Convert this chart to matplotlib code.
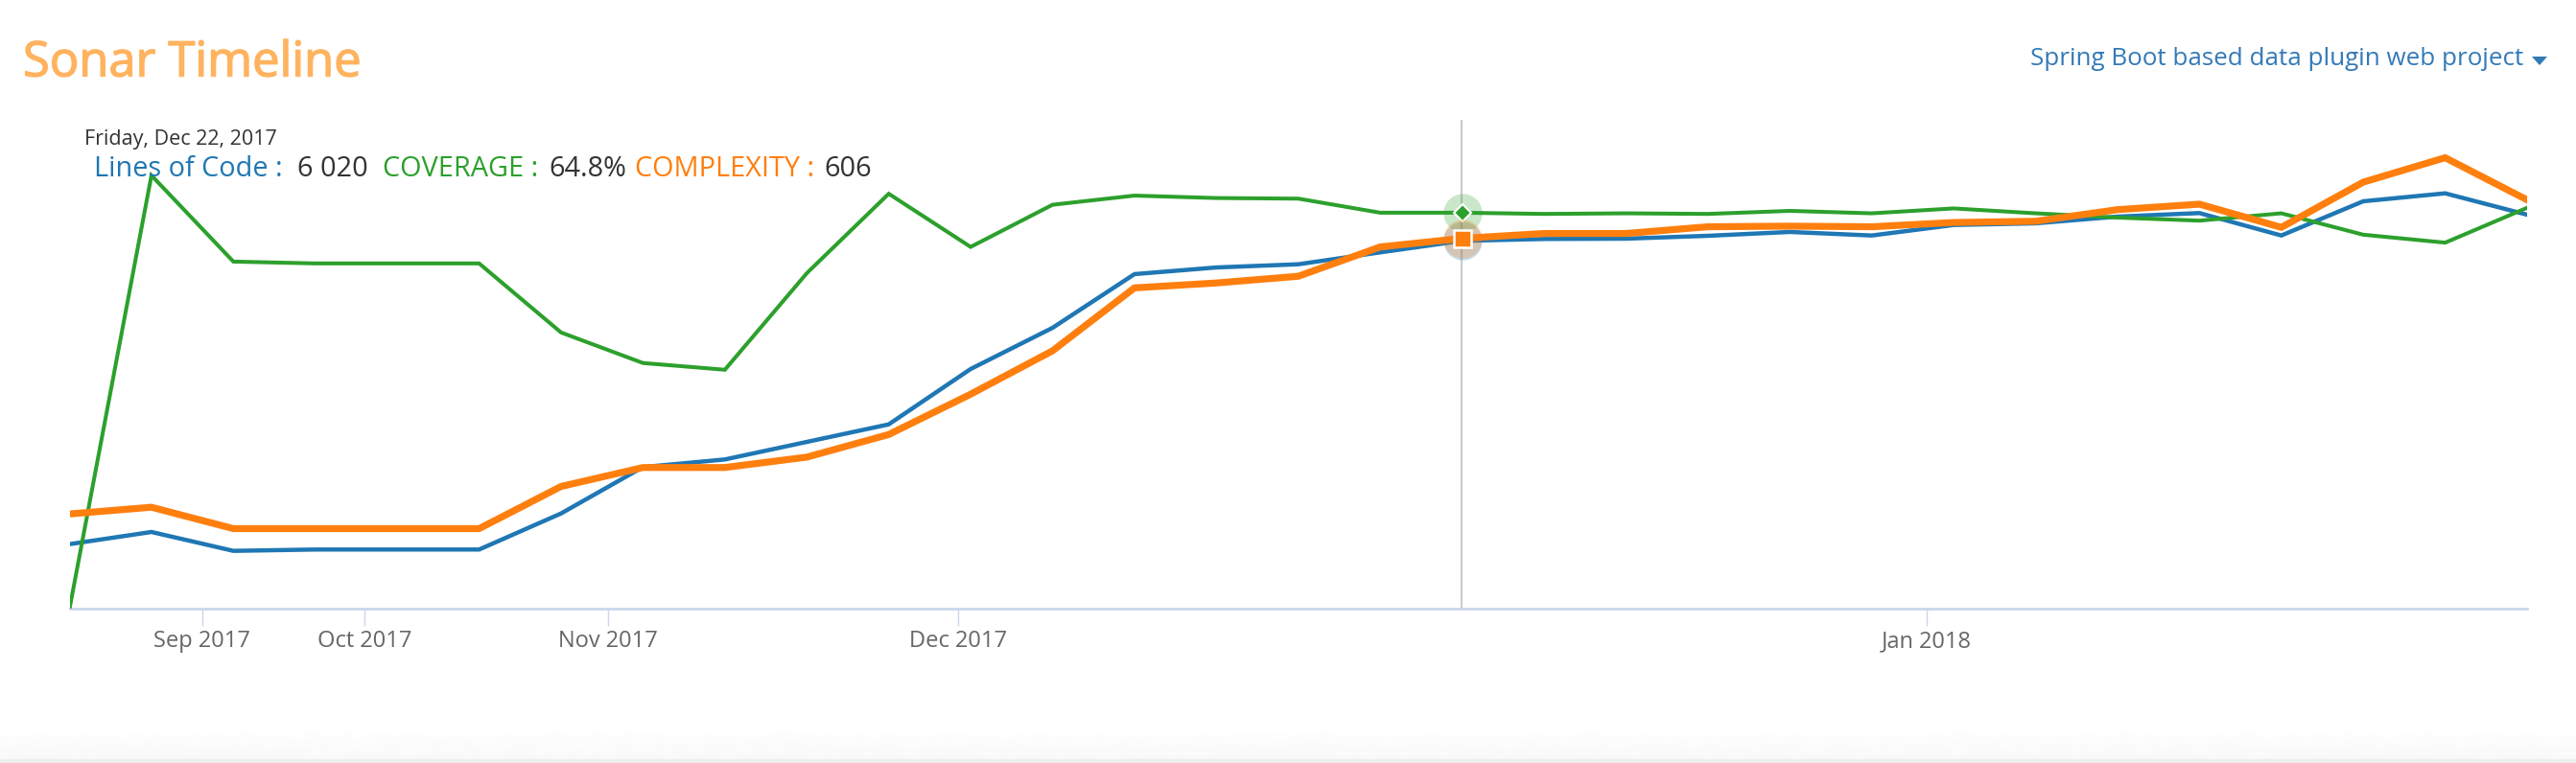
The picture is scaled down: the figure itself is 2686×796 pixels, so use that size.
import matplotlib
matplotlib.use('Agg')
import matplotlib.pyplot as plt
import matplotlib.patheffects as pe
import numpy as np

plt.rcParams['font.family'] = ['Open Sans', 'DejaVu Sans']

W, H = 2686, 796

# weekly sonar snapshots, index 17 is the highlighted one (Dec 22)
lines_of_code = [1056, 1255, 946, 968, 968, 968, 1558, 2317, 2442, 2729, 3016,
                 3922, 4596, 5475, 5584, 5636, 5831, 6020, 6050, 6055, 6102,
                 6165, 6107, 6279, 6306, 6416, 6474, 6107, 6667, 6797, 6447]
coverage = [0, 70.9, 56.8, 56.5, 56.5, 56.5, 45.2, 40.2, 39.1, 54.9, 67.9,
            59.2, 66.1, 67.6, 67.2, 67.1, 64.8, 64.8, 64.6, 64.7, 64.6,
            65.1, 64.7, 65.5, 64.7, 64.0, 63.5, 64.7, 61.2, 59.9, 65.6]
complexity = [155, 166, 131, 131, 131, 131, 200, 231, 231, 248, 285,
              351, 422, 525, 533, 544, 592, 606, 614, 614, 625,
              626, 625, 632, 634, 653, 662, 624, 698, 738, 669]

month_pos = [1.62, 3.6, 6.57, 10.85, 22.67]
month_labels = ['Sep 2017', 'Oct 2017', 'Nov 2017', 'Dec 2017', 'Jan 2018']
hover_idx = 17

BLUE, GREEN, ORANGE = '#1f77b4', '#2ca02c', '#ff7f0e'
AXIS = '#ccd6eb'


def px_text(x, y, s, **kw):
    # position in image pixels, y from the top
    return fig.text(x / W, 1 - y / H, s, **kw)


fig = plt.figure(figsize=(W / 100, H / 100), dpi=100, facecolor='white')

# faint page edge at the bottom
edge = fig.add_axes([0, 0, 1, 40 / H])
edge.imshow(np.linspace(1, 0.975, 50).reshape(-1, 1), cmap='gray', vmin=0, vmax=1, aspect='auto')
edge.axis('off')
fig.patches.append(plt.Rectangle((0, 0), 1, 4 / H, transform=fig.transFigure, color='#eeeeee', zorder=5))

left, right, top, bottom = 72.5, 2635, 125, 635
ax = fig.add_axes([left / W, 1 - bottom / H, (right - left) / W, (bottom - top) / H])
ax.patch.set_alpha(0)
ax_cov = ax.twinx()
ax_cpx = ax.twinx()
xs = np.arange(len(lines_of_code))

ax.set_xlim(0, len(xs) - 1)
ax.set_ylim(0, 8000)
ax_cov.set_ylim(0, 80)
ax_cpx.set_ylim(0, 800)

ax.plot(xs, lines_of_code, color=BLUE, lw=3.2, solid_joinstyle='miter', zorder=2)
ax_cov.plot(xs, coverage, color=GREEN, lw=2.9, solid_joinstyle='miter', zorder=3)
ax_cpx.plot(xs, complexity, color=ORANGE, lw=5.2, solid_joinstyle='miter', zorder=4)

for a in (ax, ax_cov, ax_cpx):
    for s in a.spines.values():
        s.set_visible(False)
    a.yaxis.set_visible(False)
ax.spines['bottom'].set_visible(True)
ax.spines['bottom'].set_color(AXIS)
ax.spines['bottom'].set_linewidth(2)

ax.set_xticks(month_pos)
ax.set_xticklabels(month_labels, fontsize=17, color='#666666')
ax.tick_params(axis='x', length=13, width=1, color=AXIS, pad=3)

ax.axvline(hover_idx - 0.01, color='#cccccc', lw=1.6, zorder=1)

# hover halos and markers
ax.plot(hover_idx, lines_of_code[hover_idx], 'o', ms=29, color=BLUE, alpha=0.25, mew=0, zorder=5)
ax_cov.plot(hover_idx, coverage[hover_idx], 'o', ms=29, color=GREEN, alpha=0.25, mew=0, zorder=5, clip_on=False)
ax_cpx.plot(hover_idx, complexity[hover_idx], 'o', ms=29, color=ORANGE, alpha=0.25, mew=0, zorder=5)
ax_cov.plot(hover_idx, coverage[hover_idx], 'D', ms=9, color=GREEN, mec='white', mew=1.5, zorder=6)
ax_cpx.plot(hover_idx, complexity[hover_idx], 's', ms=13, color=ORANGE, mec='white', mew=1.8, zorder=6)

title = px_text(24, 66, 'Sonar Timeline', fontsize=36.5, color='#ffb35f', va='center')
title.set_path_effects([pe.withStroke(linewidth=1, foreground='#ffb35f')])
px_text(2116.6, 62, 'Spring Boot based data plugin web project', fontsize=18.7, color='#337ab7', va='center')
fig.add_artist(plt.Polygon([[2640 / W, 1 - 59 / H], [2656 / W, 1 - 59 / H], [2648 / W, 1 - 68 / H]],
                           closed=True, transform=fig.transFigure, color='#337ab7', lw=0))

px_text(88, 146, 'Friday, Dec 22, 2017', fontsize=15.5, color='#333333', va='center')
row = [(97.6, 'Lines of Code :', BLUE), (310, '6 020', '#333333'),
       (398.6, 'COVERAGE :', GREEN), (572, '64.8%', '#333333'),
       (661.6, 'COMPLEXITY :', ORANGE), (859, '606', '#333333')]
for x, s, c in row:
    px_text(x, 177, s, fontsize=20.8, color=c, va='center')

fig.savefig('out.png', dpi=100, facecolor='white')
